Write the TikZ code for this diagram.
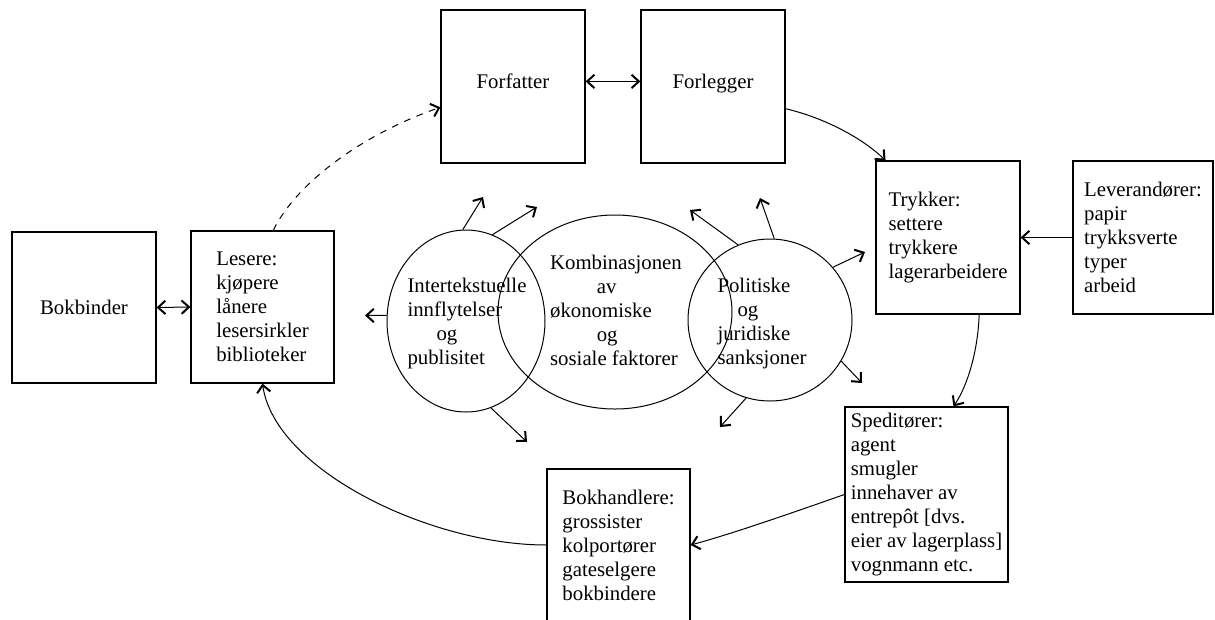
\documentclass[tikz,border=0pt]{standalone}
\usepackage{fontspec}
\setmainfont{Liberation Serif}
\usetikzlibrary{arrows.meta}
\usetikzlibrary{shapes.geometric}

\begin{document}
\begin{tikzpicture}[x=0.75pt,y=0.75pt,yscale=-1,xscale=1,
  >={Straight Barb[length=5.5pt,width=10pt,line width=1.5pt]},
  boks/.style={draw,line width=0.9,minimum width=144*0.75pt,minimum height=153*0.75pt,inner sep=0.75pt,align=left,font=\fontsize{15.6}{18}\selectfont},
  krets/.style={draw,ellipse,line width=0.75,inner sep=0pt},
  tekst/.style={inner sep=0.75pt,align=left,font=\fontsize{15.6}{18}\selectfont},
  forbindelse/.style={line width=0.75,->}]
%set diagram to the size of the page
\useasboundingbox (0,0) rectangle (1215,619);
\clip (0,0) rectangle (1215,619);

% Text Node
\node[boks,text depth=8pt] (forfatter) at (513,86.5) {Forfatter};
% Text Node
\node[boks,text depth=8pt] (forlegger) at (713,86.5) {Forlegger};
% Text Node
\node[boks] (trykker) at (948,237.5) {Trykker:\\settere\\trykkere\\lagerarbeidere};
% Text Node
\node[boks,minimum width=140*0.75pt] (leverandorer) at (1143,237.5) {Leverandører:\\papir\\trykksverte\\typer\\arbeid};
% Text Node
\node[boks,minimum width=143*0.75pt,minimum height=152*0.75pt] (lesere) at (262.5,307) {Lesere:\\kjøpere\\lånere\\lesersirkler\\biblioteker};
% Text Node
\node[boks,minimum height=151*0.75pt] (bokbinder) at (84,307.5) {Bokbinder};
% Text Node
\node[boks,minimum width=163*0.75pt,minimum height=175*0.75pt] (speditorer) at (926.5,494.5) {Speditører:\\agent\\smugler\\innehaver av\\entrepôt [dvs.\\eier av lagerplass]\\vognmann etc.};
% Text Node
\node[boks,minimum width=143*0.75pt,minimum height=152*0.75pt] (bokhandlere) at (618.5,545) {Bokhandlere:\\grossister\\kolportører\\gateselgere\\bokbindere};

% Shape: Ellipse
\node[krets,minimum width=158*0.75pt,minimum height=182*0.75pt] (intertekst) at (466,321) {};
% Shape: Ellipse
\node[krets,minimum width=234*0.75pt,minimum height=194*0.75pt] (kombinasjon) at (615,312) {};
% Shape: Ellipse
\node[krets,minimum width=164*0.75pt,minimum height=162*0.75pt] (sanksjon) at (770,320) {};
% Text Node
\node[tekst] (intertekstTekst) at (467,323) {Intertekstuelle\\innflytelser\\\hspace*{21.75pt}og\\publisitet};
% Text Node
\node[tekst] (kombinasjonTekst) at (616,310) {Kombinasjonen\\\hspace*{35pt}av\\økonomiske\\\hspace*{35pt}og\\sosiale faktorer};
% Text Node
\node[tekst] (sanksjonTekst) at (762,323) {Politiske\\\hspace*{15pt}og\\juridiske\\sanksjoner};

% Connection
\draw[line width=0.75,<->] (forfatter.4) -- (forlegger.176);
% Connection
\draw[line width=0.75,<->] (bokbinder.east) -- (lesere.west);
% Connection
\draw[forbindelse] (forlegger.-17) .. controls (825,118) and (862,138) .. (trykker.129.5);
% Connection
\draw[forbindelse] (leverandorer.west) -- (trykker.east);
% Connection
\draw[forbindelse] (trykker.-68.6) .. controls (978,350) and (968,385) .. (speditorer.73.8);
% Connection
\draw[forbindelse] (speditorer.west) .. controls (800,510) and (735,533) .. (bokhandlere.east);
% Connection
\draw[forbindelse] (bokhandlere.west) .. controls (430,545) and (275,470) .. (lesere.south);
% Connection
\draw[forbindelse,dash pattern=on 5pt off 5pt] (lesere.82) .. controls (295,185) and (360,135) .. (forfatter.196);

% Connection
\coordinate (intertekstOppe) at (483,197);
\draw[forbindelse] (intertekst.92) -- (intertekstOppe);
% Connection
\coordinate (intertekstHoyre) at (537,207);
\draw[forbindelse] (intertekst.73) -- (intertekstHoyre);
% Connection
\coordinate (intertekstVenstre) at (365,315.5);
\draw[forbindelse] (intertekst.176) -- (intertekstVenstre);
% Connection
\coordinate (intertekstNede) at (527,442);
\draw[forbindelse] (intertekst.-74) -- (intertekstNede);
% Connection
\coordinate (sanksjonVenstre) at (690,210);
\draw[forbindelse] (sanksjon.113) -- (sanksjonVenstre);
% Connection
\coordinate (sanksjonOppe) at (760,198);
\draw[forbindelse] (sanksjon.87) -- (sanksjonOppe);
% Connection
\coordinate (sanksjonHoyre) at (865,252);
\draw[forbindelse] (sanksjon.40) -- (sanksjonHoyre);
% Connection
\coordinate (sanksjonNedeHoyre) at (862,383);
\draw[forbindelse] (sanksjon.-30) -- (sanksjonNedeHoyre);
% Connection
\coordinate (sanksjonNede) at (720,427);
\draw[forbindelse] (sanksjon.-107) -- (sanksjonNede);

\end{tikzpicture}
\end{document}
